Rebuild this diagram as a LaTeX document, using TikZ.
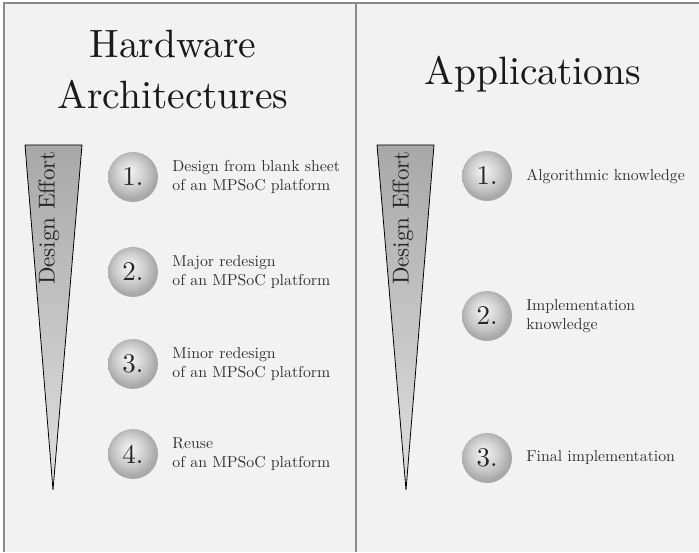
\documentclass[tikz,border=0pt]{standalone}
\usepackage{fontspec}
\setmainfont{lmroman10-regular.otf}
\usepackage{tikz}
\usetikzlibrary{positioning}
\usepackage{xcolor}

\definecolor{panelbg}{HTML}{F2F2F2}
\definecolor{framegray}{HTML}{8A8A8A}
\definecolor{labelgray}{HTML}{333333}
\pgfdeclareradialshading{numsphere}{\pgfpoint{-4bp}{6bp}}{%
  color(0bp)=(gray!8); color(6bp)=(gray!20); color(16bp)=(gray!42); color(25bp)=(gray!68); color(50bp)=(gray!68)}

\begin{document}
\begin{tikzpicture}[
    x=1pt, y=1pt,
    every node/.style={text=labelgray},
    title/.style={font=\fontsize{39.5}{51}\selectfont, align=center, text=black!90},
    effort/.style={font=\fontsize{23}{26}\selectfont, rotate=90, text=black!85},
    numball/.style={circle, minimum size=50pt, inner sep=0pt, shading=numsphere, font=\fontsize{27}{30}\selectfont, text=black!85},
    lbl/.style={inner sep=0pt, align=left, font=\fontsize{15.8}{19}\selectfont},
    wedge/.style={draw=black, line width=0.8pt, top color=gray!68, bottom color=gray!25},
    frame/.style={draw=framegray, line width=1.6pt}
]
\useasboundingbox (0,0) rectangle (699,552);
\fill[panelbg] (4,0) rectangle (699,549);
\draw[frame] (4,0) -- (4,549) -- (699,549);
\draw[frame] (356,0) -- (356,549);

% hardware side
\node[title] (hwtitle) at (173,482) {Hardware\\Architectures};
\draw[wedge] (25,407) -- (82,407) -- (53,62) -- cycle;
\node[effort] (hweffort) at (49,334) {Design Effort};

\node[numball] (hw1) at (133,375) {1.};
\node[numball] (hw2) at (133,280) {2.};
\node[numball] (hw3) at (133,188) {3.};
\node[numball] (hw4) at (133,98) {4.};
\node[lbl, right=14pt of hw1] (hwl1) {Design from blank sheet\\of an MPSoC platform};
\node[lbl, right=14pt of hw2] (hwl2) {Major redesign\\of an MPSoC platform};
\node[lbl, right=14pt of hw3] (hwl3) {Minor redesign\\of an MPSoC platform};
\node[lbl, right=14pt of hw4] (hwl4) {Reuse\\of an MPSoC platform};

% application side
\node[title] (apptitle) at (533,478) {Applications};
\draw[wedge] (377,407) -- (434,407) -- (406,62) -- cycle;
\node[effort] (appeffort) at (403,334) {Design Effort};

\node[numball] (app1) at (487,376) {1.};
\node[numball] (app2) at (487,236) {2.};
\node[numball] (app3) at (487,94) {3.};
\node[lbl, right=14pt of app1] (appl1) {Algorithmic knowledge};
\node[lbl, right=14pt of app2] (appl2) {Implementation\\knowledge};
\node[lbl, right=14pt of app3] (appl3) {Final implementation};
\end{tikzpicture}
\end{document}
